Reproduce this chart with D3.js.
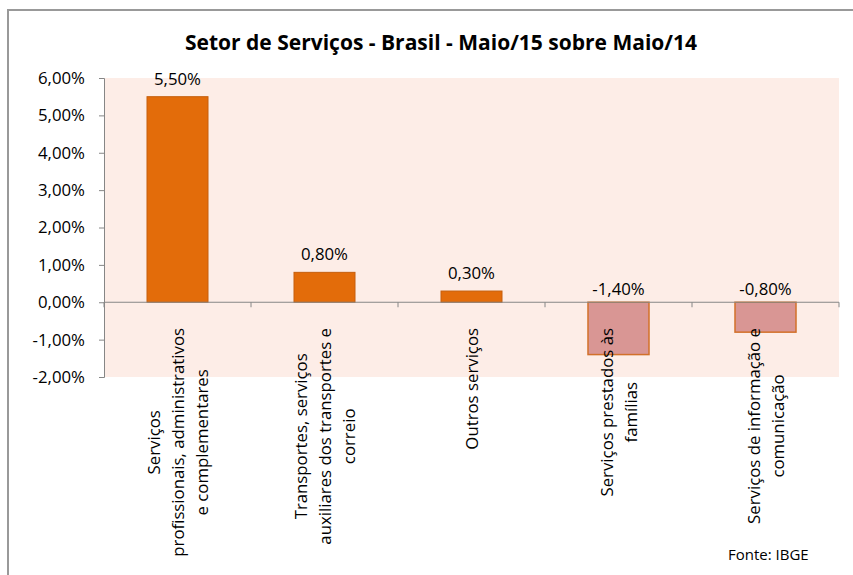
<!DOCTYPE html>
<html>
<head>
<meta charset="utf-8">
<script src="https://cdn.jsdelivr.net/npm/d3@7"></script>
<style>
  body { margin: 0; background: #fff; }
  svg { display: block; font-family: "Open Sans", sans-serif; }
</style>
</head>
<body>
<svg id="chart" width="853" height="575"></svg>
<script>
// data
const categories = [
  ["Serviços", "profissionais, administrativos", "e complementares"],
  ["Transportes, serviços", "auxiliares dos transportes e", "correio"],
  ["Outros serviços"],
  ["Serviços prestados às", "famílias"],
  ["Serviços de informação e", "comunicação"]
];
const values = [5.5, 0.8, 0.3, -1.4, -0.8];
const valueLabels = ["5,50%", "0,80%", "0,30%", "-1,40%", "-0,80%"];
const yTicks = [-2, -1, 0, 1, 2, 3, 4, 5, 6];

const width = 853, height = 575;
const plot = { left: 104, right: 839, top: 78, bottom: 377 };
const fs = 16.8;

const svg = d3.select('#chart');

// outer chart frame (only top and left edges show)
svg.append('path')
  .attr('d', `M8,${height} L8,10 L${width},10`)
  .attr('fill', 'none')
  .attr('stroke', '#999')
  .attr('stroke-width', 2);

svg.append('text')
  .attr('x', 441)
  .attr('y', 50)
  .attr('text-anchor', 'middle')
  .attr('font-weight', 'bold')
  .attr('font-size', 21)
  .attr('fill', '#000')
  .text('Setor de Serviços - Brasil - Maio/15 sobre Maio/14');

const y = d3.scaleLinear().domain([-2, 6]).range([plot.bottom, plot.top]);
const x = d3.scaleBand()
  .domain(d3.range(values.length))
  .range([plot.left, plot.right])
  .paddingInner(0.585)
  .paddingOuter(0.2925);

// plot background
svg.append('rect')
  .attr('x', plot.left)
  .attr('y', plot.top)
  .attr('width', plot.right - plot.left)
  .attr('height', plot.bottom - plot.top)
  .attr('fill', '#fdede7');

// bars
svg.selectAll('.bar')
  .data(values)
  .join('rect')
  .attr('class', 'bar')
  .attr('x', (d, i) => x(i))
  .attr('width', x.bandwidth())
  .attr('y', d => y(Math.max(0, d)))
  .attr('height', d => Math.abs(y(d) - y(0)))
  .attr('fill', d => d >= 0 ? '#e36c0a' : '#d99694')
  .attr('stroke', d => d >= 0 ? '#c65f0c' : '#d2702a')
  .attr('stroke-width', d => d >= 0 ? 1 : 1.5);

// y axis
const yAxis = svg.append('g')
  .attr('transform', `translate(${plot.left},0)`)
  .call(d3.axisLeft(y)
    .tickValues(yTicks)
    .tickSize(5)
    .tickPadding(14)
    .tickFormat(d => d3.format('.2f')(d).replace('.', ',').replace('−', '-') + '%'));
yAxis.select('.domain').attr('stroke', '#868686');
yAxis.selectAll('.tick line').attr('stroke', '#868686');
yAxis.selectAll('.tick text')
  .attr('font-size', fs)
  .attr('font-family', '"Open Sans", sans-serif')
  .attr('fill', '#000');

// category axis on the zero line
const step = x.step();
const bounds = d3.range(values.length + 1).map(i => plot.left + i * step);
svg.append('line')
  .attr('x1', plot.left).attr('x2', plot.right)
  .attr('y1', y(0)).attr('y2', y(0))
  .attr('stroke', '#868686');
svg.selectAll('.ctick')
  .data(bounds)
  .join('line')
  .attr('class', 'ctick')
  .attr('x1', d => d).attr('x2', d => d)
  .attr('y1', y(0)).attr('y2', y(0) + 5)
  .attr('stroke', '#868686');

// value labels
svg.selectAll('.vlabel')
  .data(values)
  .join('text')
  .attr('class', 'vlabel')
  .attr('x', (d, i) => x(i) + x.bandwidth() / 2)
  .attr('y', d => d >= 0 ? y(d) - 12 : y(0) - 7)
  .attr('text-anchor', 'middle')
  .attr('font-size', fs)
  .attr('fill', '#000')
  .text((d, i) => valueLabels[i]);

// rotated category labels, lines centred on each other, top aligned
const labelTop = 328;
const lineGap = 24;
categories.forEach((lines, i) => {
  const cx = x(i) + x.bandwidth() / 2;
  const g = svg.append('g');
  const texts = g.selectAll('text')
    .data(lines)
    .join('text')
    .attr('font-size', fs)
    .attr('fill', '#000')
    .attr('text-anchor', 'middle')
    .text(d => d);
  const maxLen = d3.max(texts.nodes(), n => n.getComputedTextLength());
  const cy = labelTop + maxLen / 2;
  const n = lines.length;
  texts.attr('transform', (d, j) => {
    const lx = cx + (j - (n - 1) / 2) * lineGap + 6;
    return `translate(${lx},${cy}) rotate(-90)`;
  });
});

svg.append('text')
  .attr('x', 728)
  .attr('y', 560)
  .attr('font-size', 15)
  .attr('fill', '#000')
  .text('Fonte: IBGE');
</script>
</body>
</html>
